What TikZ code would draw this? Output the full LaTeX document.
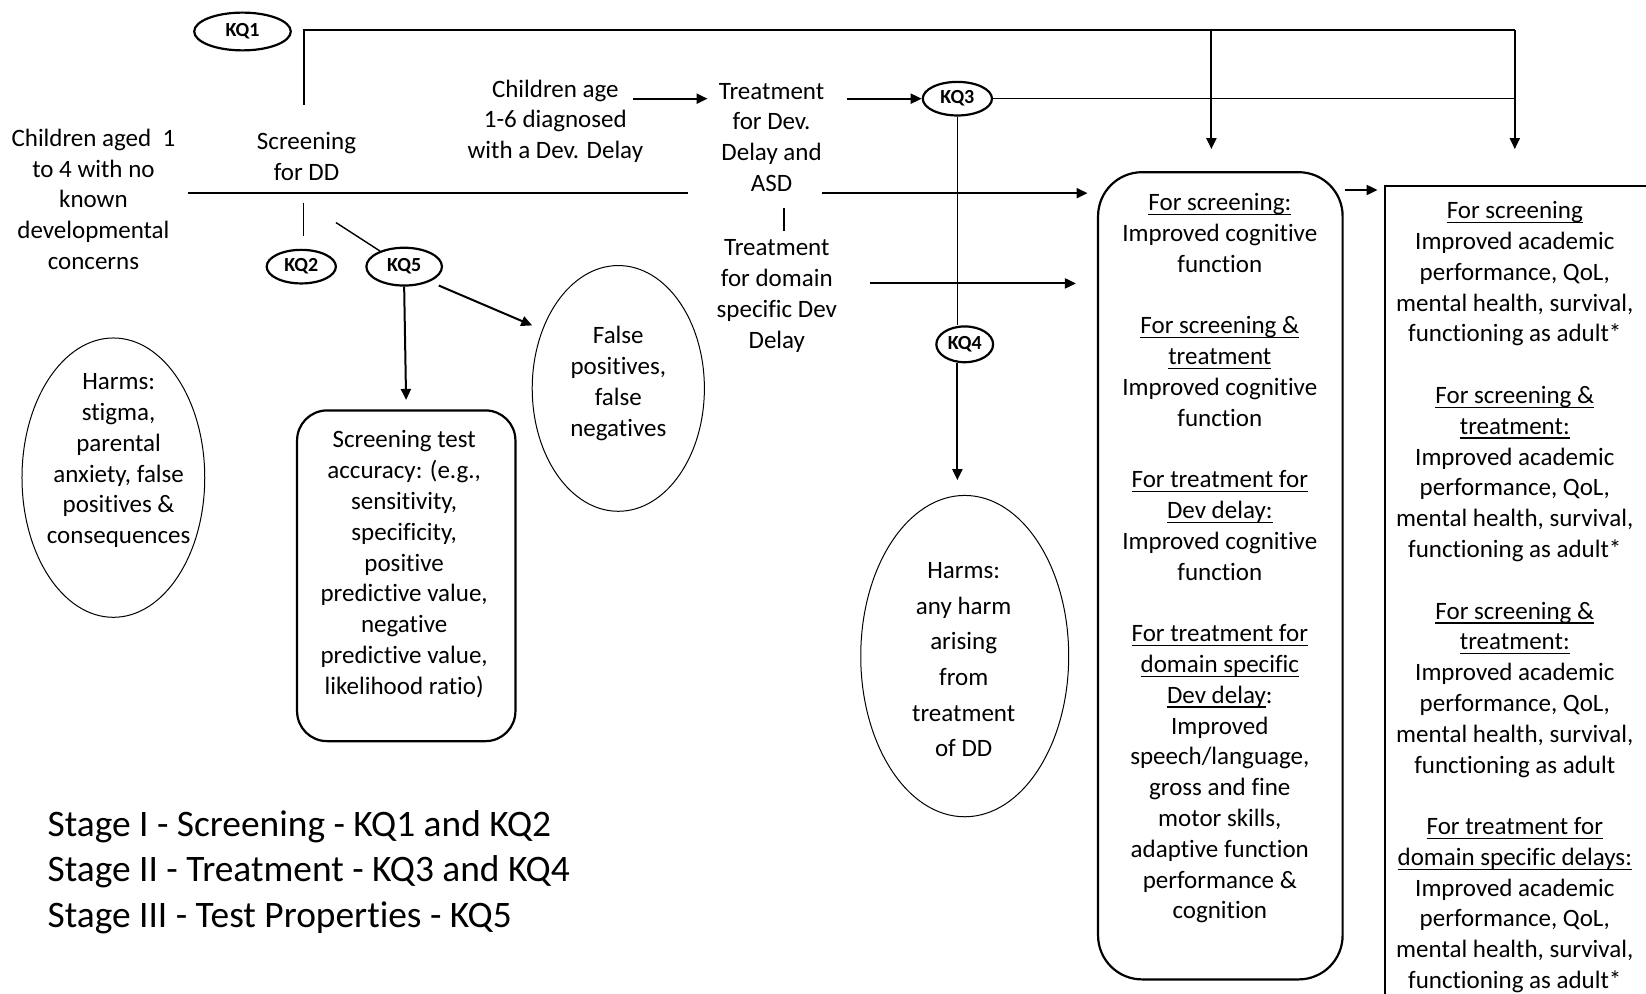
\documentclass[tikz,border=0pt]{standalone}
\usepackage{fontspec}
\setmainfont{Carlito}[Ligatures=NoCommon]
\usetikzlibrary{shapes.geometric,arrows.meta}
\newcommand{\undl}[1]{\leavevmode\setbox0=\hbox{#1}\rlap{\rule[-2.3pt]{\wd0}{0.75pt}}\box0}
\begin{document}
\begin{tikzpicture}[x=0.525pt,y=-0.525pt,
  txt/.style={align=center,font=\fontsize{12.5}{15.4}\selectfont,inner sep=0pt,yshift=-1pt},
  kq/.style={draw,ellipse,line width=1.1pt,inner sep=0pt,font=\bfseries\fontsize{10}{12}\selectfont},
  oval/.style={draw,ellipse,line width=0.5pt,inner sep=0pt},
  rbox/.style={draw,line width=1.1pt,inner sep=0pt},
  conn/.style={line width=1pt},
  thinline/.style={line width=0.7pt},
  arr/.style={line width=1pt,-{Triangle[length=5.5pt,width=5pt]}},
]
\useasboundingbox (0,0) rectangle (1568,946);
\clip (0,0) rectangle (1568,946);

% KQ ellipses
\node[kq,minimum width=48.3pt,minimum height=18.9pt] (kq1) at (231,30) {KQ1};
\node[kq,minimum width=34.6pt,minimum height=16.8pt] (kq2) at (287,254) {KQ2};
\node[kq,minimum width=37.8pt,minimum height=18.9pt] (kq5) at (385,254) {KQ5};
\node[kq,minimum width=34.6pt,minimum height=16.8pt] (kq3) at (912,94) {KQ3};
\node[kq,minimum width=28.4pt,minimum height=17.9pt] (kq4) at (919,328) {KQ4};

% text labels
\node[txt] (pop) at (89,188) {Children aged\ \ 1\\to 4 with no\\known\\developmental\\concerns};
\node[txt] (scr) at (292,147.5) {Screening\\for DD};
\node[txt] (dx) at (529,113.5) {Children age\\1-6 diagnosed\\with a Dev. Delay};
\node[txt] (trdd) at (735,129) {Treatment\\for Dev.\\Delay and\\ASD};
\node[txt] (trdom) at (740,280) {Treatment\\for domain\\specific Dev\\Delay};

% ellipses
\node[oval,minimum width=91.4pt,minimum height=139.7pt] (harms1) at (108,455) {};
\node[txt] (harms1t) at (113,437) {Harms:\\stigma,\\parental\\anxiety, false\\positives \&\\consequences};
\node[oval,minimum width=86.1pt,minimum height=122.9pt] (fp) at (589,370) {};
\node[txt] (fpt) at (589,363.5) {False\\positives,\\false\\negatives};
\node[oval,minimum width=104pt,minimum height=160.7pt] (harms2) at (919,625) {};
\node[txt,font=\fontsize{12.5}{17.85}\selectfont] (harms2t) at (918,626.5) {Harms:\\any harm\\arising\\from\\treatment\\of DD};

% screening accuracy box
\node[rbox,rounded corners=15pt,minimum width=109.2pt,minimum height=165.4pt] (acc) at (387,548.5) {};
\node[txt] (acct) at (385,535.5) {Screening test\\accuracy: (e.g.,\\sensitivity,\\specificity,\\positive\\predictive value,\\negative\\predictive value,\\likelihood ratio)};

% intermediate outcomes box
\node[rbox,rounded corners=22pt,minimum width=122.3pt,minimum height=403.7pt] (mid) at (1162.5,548.5) {};
\node[txt] (midt) at (1162,530) {\undl{For screening:}\\Improved cognitive\\function\\[15.4pt]
\undl{For screening \&}\\\undl{treatment}\\Improved cognitive\\function\\[15.4pt]
\undl{For treatment for}\\\undl{Dev delay:}\\Improved cognitive\\function\\[15.4pt]
\undl{For treatment for}\\\undl{domain specific}\\\undl{Dev delay}:\\Improved\\speech/language,\\gross and fine\\motor skills,\\adaptive function\\performance \&\\cognition};

% final outcomes box
\node[rbox,anchor=north west,minimum width=137.6pt,minimum height=411.6pt] (out) at (1318,176) {};
\node[txt] (outt) at (1443,567) {\undl{For screening}\\Improved academic\\performance, QoL,\\mental health, survival,\\functioning as adult*\\[15.4pt]
\undl{For screening \&}\\\undl{treatment:}\\Improved academic\\performance, QoL,\\mental health, survival,\\functioning as adult*\\[15.4pt]
\undl{For screening \&}\\\undl{treatment:}\\Improved academic\\performance, QoL,\\mental health, survival,\\functioning as adult\\[15.4pt]
\undl{For treatment for}\\\undl{domain specific delays:}\\Improved academic\\performance, QoL,\\mental health, survival,\\functioning as adult*};

% stages legend
\node[anchor=west,align=left,inner sep=0pt,font=\fontsize{18.7}{22.6}\selectfont,yshift=-1.5pt] (stages) at (45,828) {Stage I - Screening - KQ1 and KQ2\\Stage II - Treatment - KQ3 and KQ4\\Stage III - Test Properties - KQ5};

% coordinates
\coordinate (scrtop) at (290,100);
\coordinate (topR) at (1443,29);
\coordinate (topM) at (1154,29);
\coordinate (endM) at (1154,142);
\coordinate (endR) at (1443,142);
\coordinate (mainL) at (179,184);
\coordinate (mainM) at (655,184);
\coordinate (asdR) at (783,184);
\coordinate (dxR) at (603,94);
\coordinate (trddL) at (674,94);
\coordinate (trddR) at (807,94);
\coordinate (barT) at (747,198);
\coordinate (barB) at (747,220);
\coordinate (domR) at (829,270);
\coordinate (kq2T) at (289,193);
\coordinate (kq2B) at (289,225);
\coordinate (kq5L) at (320,212);
\coordinate (kq5R) at (418,272);
\coordinate (fpL) at (507,310);
\coordinate (m2o) at (1281,181);

% connectors
\draw[conn] (scrtop) |- (topR);
\draw[arr] (topR) -- (endR);
\draw[arr] (topM) -- (endM);
\draw[conn] (mainL) -- (mainM);
\draw[arr,shorten >=4.7pt] (asdR) -- (asdR -| mid.west);
\draw[arr] (dxR) -- (trddL);
\draw[arr] (trddR) -- (kq3.west);
\draw[thinline] (kq3.east) -- (kq3.east -| topR);
\draw[thinline] (kq3.south) -- (kq3.south |- kq4.north);
\draw[arr,shorten >=7.4pt] (kq3.south |- kq4.south) -- (kq3.south |- harms2.north);
\draw[thinline] (barT) -- (barB);
\draw[arr,shorten >=10.5pt] (domR) -- (domR -| mid.west);
\draw[thinline] (kq2T) -- (kq2B);
\draw[thinline] (kq5L) -- (kq5);
\draw[arr,shorten >=4.7pt] (kq5.south) -- (acc.north);
\draw[arr] (kq5R) -- (fpL);
\draw[arr,shorten >=3pt] (m2o) -- (m2o -| out.west);
\end{tikzpicture}
\end{document}
